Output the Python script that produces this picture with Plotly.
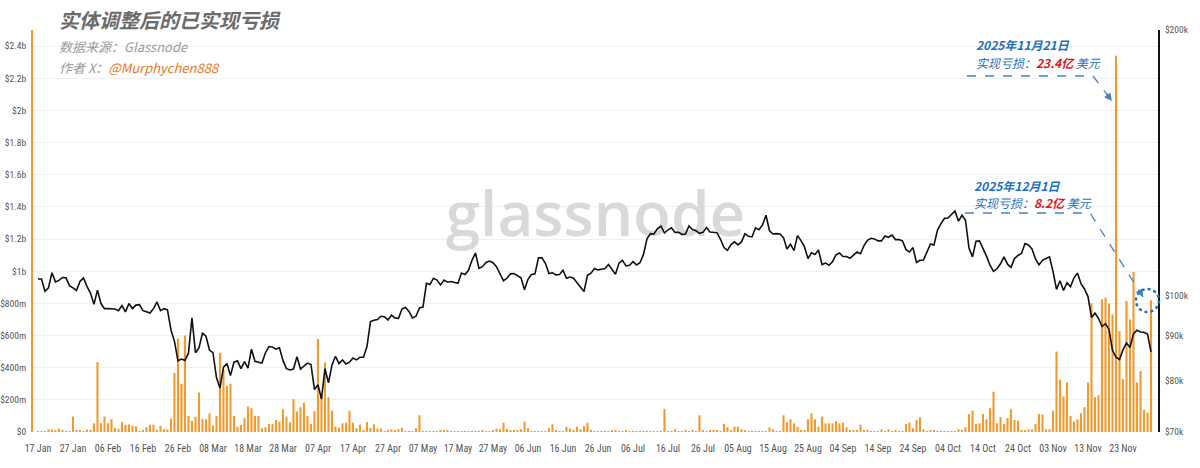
import pandas as pd
import plotly.graph_objects as go

# ---------------- data ----------------
start_date = "2025-01-17"

# Entity-adjusted realized loss, USD millions (daily)
loss_jan = [3, 5, 5, 17, 15, 10, 20, 8, 3, 2, 96, 12, 10, 3, 15]
loss_feb = [14, 54, 435, 55, 96, 55, 80, 25, 20, 62, 45, 47, 40, 35, 5, 8, 30, 45, 45, 12,
            38, 18, 16, 83, 367, 581, 300, 600]
loss_mar = [100, 70, 95, 246, 80, 80, 115, 40, 100, 492, 387, 287, 300, 100, 33, 44, 85, 158,
            148, 100, 100, 23, 29, 50, 50, 75, 65, 142, 96, 60, 204]
loss_apr = [127, 154, 183, 100, 50, 129, 579, 230, 433, 217, 133, 33, 27, 54, 58, 133, 58, 23,
            46, 12, 62, 25, 48, 21, 21, 6, 8, 17, 12, 17]
loss_may = [27, 2, 2, 6, 23, 104, 6, 4, 2, 2, 3, 8, 8, 12, 3, 2, 2, 2, 4, 2, 2, 5, 4, 8, 6, 2,
            8, 21, 17, 58, 19]
loss_jun = [8, 12, 8, 17, 65, 23, 1, 2, 2, 1, 2, 23, 48, 8, 2, 1, 33, 21, 8, 33, 17, 38, 58, 8,
            1, 2, 4, 1, 1, 8]
loss_jul = [10, 3, 2, 10, 3, 2, 3, 2, 1, 1, 2, 2, 2, 1, 144, 2, 6, 17, 2, 4, 8, 4, 8, 3, 104,
            8, 6, 8, 12, 8, 2]
loss_aug = [50, 29, 8, 33, 33, 17, 8, 6, 1, 1, 2, 2, 2, 29, 17, 2, 2, 104, 62, 79, 54, 33, 8,
            12, 79, 117, 79, 33, 96, 54, 54]
loss_sep = [54, 67, 54, 58, 29, 12, 8, 12, 46, 8, 8, 2, 2, 2, 17, 2, 17, 2, 8, 2, 2, 50, 58, 23,
            75, 92, 17, 2, 12, 8]
loss_oct = [1, 1, 1, 1, 1, 1, 17, 12, 29, 112, 133, 50, 54, 112, 79, 148, 250, 54, 92, 50, 87,
            142, 75, 71, 12, 12, 17, 17, 50, 112, 108]
loss_nov = [17, 17, 133, 500, 325, 221, 308, 100, 65, 79, 117, 154, 308, 800, 217, 229, 825,
            835, 800, 731, 2340, 627, 329, 815, 700, 995, 308, 379, 137, 121]
loss_dec = [820]

# BTC price, USD thousands (daily)
price_jan = [104.4, 104.4, 101.1, 102.0, 106.1, 103.6, 104.0, 104.8, 104.7, 102.6, 102.0, 101.3,
             103.7, 104.7, 102.4]
price_feb = [100.6, 97.7, 101.4, 97.9, 96.6, 96.6, 96.5, 96.5, 96.1, 97.4, 95.8, 97.9, 96.6,
             97.5, 97.6, 96.1, 95.8, 95.5, 96.6, 98.3, 96.1, 96.6, 96.3, 91.4, 88.7, 84.3, 84.7,
             84.4]
price_mar = [86.0, 94.3, 86.1, 87.2, 90.6, 89.9, 86.7, 86.1, 80.7, 78.5, 82.9, 83.7, 81.1, 84.0,
             84.3, 82.6, 84.1, 82.7, 86.9, 84.2, 84.0, 83.8, 86.1, 87.5, 87.4, 86.9, 87.2, 84.4,
             82.6, 82.3, 82.5]
price_apr = [85.2, 82.5, 83.1, 83.8, 83.5, 78.2, 79.2, 76.3, 82.6, 79.6, 83.4, 85.3, 83.7, 84.5,
             83.6, 84.0, 84.9, 84.5, 85.1, 85.1, 87.5, 93.4, 93.7, 93.9, 94.7, 94.6, 93.8, 95.0,
             94.3, 94.2]
price_may = [96.5, 96.9, 95.9, 94.3, 94.7, 96.8, 97.0, 103.2, 102.9, 104.6, 104.1, 102.8, 104.1,
             103.5, 103.7, 103.5, 103.2, 106.0, 105.6, 106.8, 109.6, 111.7, 107.3, 107.8, 109.0,
             109.4, 108.9, 107.8, 105.6, 103.9, 104.6]
price_jun = [105.8, 105.9, 105.4, 104.7, 101.5, 104.3, 105.6, 105.8, 110.3, 110.3, 108.7, 105.9,
             106.1, 105.5, 105.6, 106.8, 104.6, 104.9, 104.6, 103.3, 102.1, 101.0, 105.4, 106.0,
             107.3, 106.9, 107.1, 107.3, 108.4, 107.1]
price_jul = [105.7, 108.8, 109.6, 108.0, 108.2, 109.2, 108.3, 108.9, 111.3, 115.9, 117.5, 117.4,
             119.1, 119.8, 117.7, 118.7, 119.3, 117.9, 117.9, 117.3, 117.4, 119.9, 118.8, 118.4,
             117.6, 117.9, 119.4, 118.0, 117.9, 117.8, 115.8]
price_aug = [113.3, 112.5, 114.2, 115.0, 114.1, 115.0, 117.5, 116.7, 116.5, 119.3, 118.7, 120.2,
             123.3, 118.4, 117.4, 117.5, 117.4, 116.3, 112.9, 114.3, 112.4, 116.9, 115.4, 113.5,
             110.1, 111.8, 111.3, 112.6, 108.4, 108.8, 108.2]
price_sep = [109.2, 111.2, 111.7, 110.7, 110.7, 110.2, 111.1, 112.0, 111.5, 113.9, 115.5, 116.1,
             115.9, 115.3, 115.3, 116.8, 116.4, 117.1, 115.7, 115.7, 115.3, 112.7, 112.0, 113.3,
             109.0, 109.6, 109.7, 112.1, 114.4, 114.1]
price_oct = [118.6, 120.6, 122.3, 122.4, 123.5, 124.7, 121.4, 123.3, 121.7, 113.2, 110.6, 115.2,
             115.3, 113.1, 110.8, 108.2, 106.5, 107.2, 108.6, 110.6, 108.5, 107.6, 110.1, 111.0,
             111.6, 114.5, 114.1, 112.9, 110.0, 108.3, 109.6]
price_nov = [110.1, 110.6, 106.5, 101.6, 103.9, 101.3, 103.4, 102.3, 104.7, 106.0, 103.1, 101.7,
             99.7, 94.4, 95.5, 94.2, 92.2, 92.9, 91.5, 86.6, 85.1, 84.6, 86.8, 88.3, 87.3, 90.5,
             91.3, 90.9, 90.8, 90.4]
price_dec = [86.3]

left_tick_vals = [0, 0.2e9, 0.4e9, 0.6e9, 0.8e9, 1.0e9, 1.2e9, 1.4e9, 1.6e9, 1.8e9, 2.0e9, 2.2e9, 2.4e9]
left_tick_text = ["$0", "$200m", "$400m", "$600m", "$800m", "$1b", "$1.2b", "$1.4b", "$1.6b",
                  "$1.8b", "$2b", "$2.2b", "$2.4b"]
right_tick_vals = [70000, 80000, 90000, 100000, 200000]
right_tick_text = ["$70k", "$80k", "$90k", "$100k", "$200k"]

# ---------------- build ----------------
loss_m = (loss_jan + loss_feb + loss_mar + loss_apr + loss_may + loss_jun + loss_jul +
          loss_aug + loss_sep + loss_oct + loss_nov + loss_dec)
price_k = (price_jan + price_feb + price_mar + price_apr + price_may + price_jun + price_jul +
           price_aug + price_sep + price_oct + price_nov + price_dec)
dates = pd.date_range(start_date, periods=len(loss_m), freq="D")
loss = [v * 1e6 for v in loss_m]
price = [p * 1000 for p in price_k]

x_lo = dates[0] - pd.Timedelta(hours=34)
x_hi = dates[-1] + pd.Timedelta(days=2)

ORANGE = "#f39a2e"
BLUE = "#1c6fbe"
RED = "#e3141b"
CJK = "Noto Sans CJK SC"
TICKFONT = "Liberation Sans Narrow, Roboto Condensed, Liberation Sans, sans-serif"

fig = go.Figure()

# watermark (drawn first so it sits beneath data)
fig.add_trace(go.Scatter(
    x=[x_lo + (x_hi - x_lo) / 2], y=[2.5e9 * 0.525], mode="text", text=["glassnode"],
    textfont=dict(family="Open Sans", size=62, color="#d9d9d9", weight=600),
    hoverinfo="skip", showlegend=False, yaxis="y"))

fig.add_trace(go.Bar(x=dates, y=loss, marker=dict(color=ORANGE, line=dict(width=0)),
                     name="Realized Loss", yaxis="y", showlegend=False))
fig.add_trace(go.Scatter(x=dates, y=price, mode="lines", line=dict(color="#111111", width=1.6),
                         name="Price", yaxis="y2", showlegend=False))

fig.update_layout(
    width=1200, height=468,
    margin=dict(l=33, r=42, t=30, b=36, autoexpand=False),
    paper_bgcolor="white", plot_bgcolor="white",
    bargap=0.4,
    font=dict(family=TICKFONT, size=10, color="#555"),
    xaxis=dict(range=[x_lo, x_hi], tickvals=list(dates[::10]), tickformat="%d %b",
               tickangle=0, automargin=False, ticklabelstandoff=9,
               showgrid=False, showline=False, zeroline=False, ticks="",
               tickfont=dict(family=TICKFONT, size=10, color="#555")),
    yaxis=dict(range=[0, 2.5e9], tickvals=left_tick_vals, ticktext=left_tick_text,
               automargin=False, ticklabelstandoff=3,
               showgrid=True, gridcolor="#f0f0f0", gridwidth=1, zeroline=False,
               showline=True, linecolor=ORANGE, linewidth=2, ticks="",
               tickfont=dict(family=TICKFONT, size=9.5, color="#555")),
    yaxis2=dict(type="log", range=[4.845098, 5.30103], overlaying="y", side="right",
                automargin=False, ticklabelstandoff=3,
                tickvals=right_tick_vals, ticktext=right_tick_text, showgrid=False,
                showline=True, linecolor="#111111", linewidth=2, ticks="", zeroline=False,
                tickfont=dict(family=TICKFONT, size=9.5, color="#555")),
)

# title block
fig.add_annotation(xref="paper", yref="paper", x=0.0215, y=1.025, xanchor="left", yanchor="middle",
                   text="实体调整后的已实现亏损", showarrow=False,
                   font=dict(family=CJK, size=20, color="#6b6b6b", weight="bold", style="italic"))
fig.add_annotation(xref="paper", yref="paper", x=0.0215, y=0.958, xanchor="left", yanchor="middle",
                   text="数据来源：Glassnode", showarrow=False,
                   font=dict(family=CJK, size=13, color="#9b9b9b", style="italic"))
fig.add_annotation(xref="paper", yref="paper", x=0.0215, y=0.906, xanchor="left", yanchor="middle",
                   text="作者 X：<span style='color:#e8771f'>@Murphychen888</span>", showarrow=False,
                   font=dict(family=CJK, size=13, color="#9b9b9b", style="italic"))

# callout 1 (Nov 21)
fig.add_annotation(xref="paper", yref="paper", x=0.836, y=0.963, xanchor="left", yanchor="middle",
                   text="<b>2025年11月21日</b>", showarrow=False,
                   font=dict(family=CJK, size=12, color=BLUE, style="italic"))
fig.add_annotation(xref="paper", yref="paper", x=0.836, y=0.918, xanchor="left", yanchor="middle",
                   text=f"实现亏损：<span style='color:{RED}'><b>23.4亿</b></span> 美元", showarrow=False,
                   font=dict(family=CJK, size=12, color=BLUE, style="italic"))
# callout 2 (Dec 1)
fig.add_annotation(xref="paper", yref="paper", x=0.8345, y=0.6144, xanchor="left", yanchor="middle",
                   text="<b>2025年12月1日</b>", showarrow=False,
                   font=dict(family=CJK, size=12, color=BLUE, style="italic"))
fig.add_annotation(xref="paper", yref="paper", x=0.8345, y=0.5697, xanchor="left", yanchor="middle",
                   text=f"实现亏损：<span style='color:{RED}'><b>8.2亿</b></span> 美元", showarrow=False,
                   font=dict(family=CJK, size=12, color=BLUE, style="italic"))

DASH = "#4a80b8"
fig.add_shape(type="path", xref="paper", yref="paper",
              path="M 0.8302,0.8856 L 0.9422,0.8856 L 0.9591,0.8234",
              line=dict(color=DASH, width=1.3, dash="dash"))
fig.add_annotation(xref="paper", yref="paper", x=0.9591, y=0.8234, ax=-7, ay=-9, text="",
                   showarrow=True, arrowhead=2, arrowsize=1.2, arrowwidth=1.3, arrowcolor=DASH)
fig.add_shape(type="path", xref="paper", yref="paper",
              path="M 0.8284,0.5448 L 0.9396,0.5448 L 0.9867,0.3358",
              line=dict(color=DASH, width=1.3, dash="dash"))
fig.add_annotation(xref="paper", yref="paper", x=0.9867, y=0.3358, ax=-5, ay=-9, text="",
                   showarrow=True, arrowhead=2, arrowsize=1.2, arrowwidth=1.3, arrowcolor=DASH)
fig.add_shape(type="circle", xref="paper", yref="paper",
              x0=0.9804, x1=1.0009, y0=0.2985, y1=0.3557,
              line=dict(color=BLUE, width=2.5, dash="dot"))

fig.write_html("out.html", config={"displayModeBar": False},
               post_script="document.body.style.margin='0';")
